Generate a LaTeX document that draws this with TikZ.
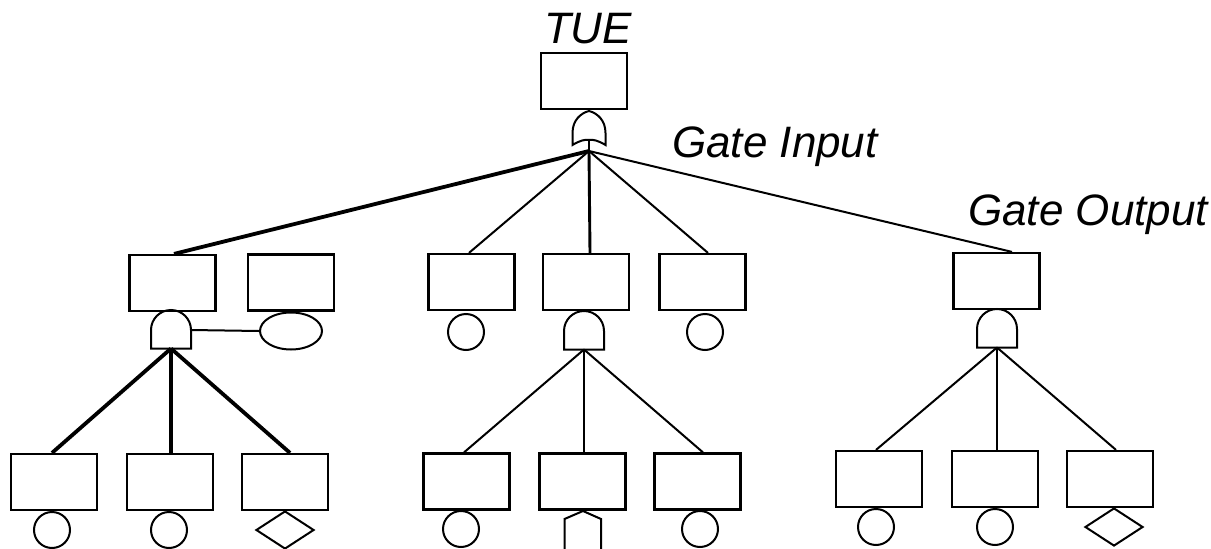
\documentclass[tikz,border=0pt]{standalone}
\usepackage{fontspec}
\setmainfont{Liberation Sans}
\usetikzlibrary{shapes.geometric,calc}

\tikzset{
  event/.style={draw, line width=2.2pt, minimum width=86pt, minimum height=56pt, inner sep=0pt},
  basic/.style={draw, circle, line width=2pt, minimum size=36pt, inner sep=0pt},
  undev/.style={draw, diamond, line width=2pt, minimum width=58pt, minimum height=38pt, inner sep=0pt},
  cond/.style={draw, ellipse, line width=2pt, minimum width=62pt, minimum height=37pt, inner sep=0pt},
  link/.style={line width=2pt},
  heavy/.style={line width=3.8pt},
  midheavy/.style={line width=2.9pt},
  caption/.style={font=\fontsize{44}{50}\selectfont\itshape, inner sep=0pt},
  pics/andgate/.style={code={
    \draw[line width=2pt] (-20,18.5) -- (-20,0) arc[start angle=180,end angle=0,radius=20pt] -- (20,18.5) -- cycle;
    \coordinate (-out) at (0,18.5);
    \coordinate (-east) at (20,0);
  }},
  pics/orgate/.style={code={
    \draw[line width=2pt] (-16.5,0) .. controls (-10,-4) and (-4,-6) .. (0,-5)
      .. controls (4,-6) and (10,-4) .. (16.5,0) -- (16.5,-12)
      .. controls (16.5,-25) and (8,-32) .. (0,-34)
      .. controls (-8,-32) and (-16.5,-25) .. (-16.5,-12) -- cycle;
    \draw[line width=2pt] (0,-5) -- (0,6);
    \coordinate (-out) at (0,6);
  }}
}

\begin{document}
\begin{tikzpicture}[x=1pt,y=-1pt]
\useasboundingbox (0,0) rectangle (1211,549);
\clip (0,0) rectangle (1211,549);
\fill[white] (0,0) rectangle (1211,549);

% top event and labels
\node[event] (top) at (584,81) {};
\node[caption, anchor=base] (tue) at (588,43) {TUE};
\node[caption, anchor=base west] (gin) at (672,157) {Gate Input};
\node[caption, anchor=base west] (gout) at (968,225) {Gate Output};
\pic (og) at (589,145) {orgate};

% second level events
\node[event] (A) at (172.5,283) {};
\node[event] (B) at (291,282.5) {};
\node[event] (M1) at (471.5,282) {};
\node[event] (M2) at (586,282) {};
\node[event] (M3) at (702.5,282) {};
\node[event] (R) at (996.5,281) {};

\pic (lg) at (171,330) {andgate};
\pic (mg) at (584,331) {andgate};
\pic (rg) at (997,329) {andgate};
\node[cond] (Bc) at (291,331) {};
\node[basic] (M1c) at (466,332) {};
\node[basic] (M3c) at (705,332) {};

% third level events
\node[event] (L1) at (54,482) {};
\node[event] (L2) at (170,482) {};
\node[event] (L3) at (285,482) {};
\node[event] (C1) at (466.5,481.5) {};
\node[event] (C2) at (582.5,481.5) {};
\node[event] (C3) at (697.5,481.5) {};
\node[event] (R1) at (879,479) {};
\node[event] (R2) at (995,479) {};
\node[event] (R3) at (1110,479) {};

% basic, undeveloped and house events
\node[basic] (L1c) at (52,530) {};
\node[basic] (L2c) at (169,530) {};
\node[undev] (L3d) at (285,530) {};
\node[basic] (C1c) at (461,529) {};
\node[basic] (C3c) at (700,529) {};
\node[basic] (R1c) at (876,527) {};
\node[basic] (R2c) at (995,527) {};
\node[undev] (R3d) at (1114,527) {};
\draw[line width=2pt] (564.5,560) -- (564.5,519) -- (583,511) -- (601,519) -- (601,560);

% connectors from the OR gate
\draw[heavy] (og-out) -- ([xshift=1.5pt]A.north);
\draw[link] (og-out) -- ([xshift=-2.5pt]M1.north);
\draw[midheavy] (og-out) -- ([xshift=4pt]M2.north);
\draw[link] (og-out) -- ([xshift=5.5pt]M3.north);
\draw[link] (og-out) -- ([xshift=15.5pt]R.north);

% connectors from the AND gates
\draw[heavy] (lg-out) -- ([xshift=-2pt]L1.north);
\draw[heavy] (lg-out) -- ([xshift=1pt]L2.north);
\draw[heavy] (lg-out) -- ([xshift=5pt]L3.north);
\draw[link] (lg-east) -- (Bc.west);

\draw[link] (mg-out) -- ([xshift=-2.5pt]C1.north);
\draw[link] (mg-out) -- ([xshift=1.5pt]C2.north);
\draw[link] (mg-out) -- ([xshift=5.5pt]C3.north);

\draw[link] (rg-out) -- ([xshift=-3pt]R1.north);
\draw[link] (rg-out) -- ([xshift=2pt]R2.north);
\draw[link] (rg-out) -- ([xshift=6pt]R3.north);
\end{tikzpicture}
\end{document}
